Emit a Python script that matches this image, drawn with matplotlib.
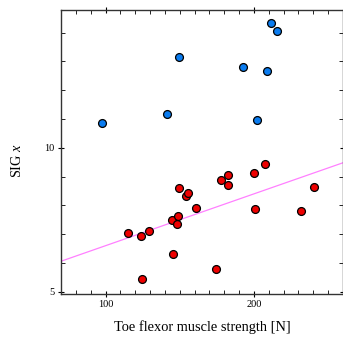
import matplotlib
matplotlib.use('Agg')
import matplotlib.pyplot as plt
import numpy as np
from matplotlib.ticker import MultipleLocator

# dados
forca_azul = [97.6, 141.5, 149.4, 192.3, 202.2, 209.1, 211.4, 215.4]
sig_azul = [10.87, 11.18, 13.17, 12.82, 10.95, 12.67, 14.33, 14.05]

forca_verm = [115.0, 124.2, 129.6, 124.4, 144.6, 147.9, 149.1, 145.7, 149.3, 154.1, 155.8,
              161.2, 174.3, 177.6, 182.5, 182.5, 200.0, 200.4, 207.5, 231.8, 240.4]
sig_verm = [7.04, 6.92, 7.10, 5.45, 7.48, 7.34, 7.63, 6.30, 8.59, 8.33, 8.42,
            7.91, 5.79, 8.89, 9.05, 8.70, 9.11, 7.86, 9.43, 7.82, 8.63]

# reta de regressão: y = a + b*x
reta_a = 4.80
reta_b = 0.018

plt.rcParams['font.family'] = 'Liberation Serif'
plt.rcParams['mathtext.fontset'] = 'custom'
plt.rcParams['mathtext.rm'] = 'Liberation Serif'
plt.rcParams['mathtext.it'] = 'Liberation Serif:italic'

fig = plt.figure(figsize=(3.43, 3.38), dpi=100)
ax = fig.add_axes([0.178, 0.130, 0.822, 0.840])

xs = np.array([70, 260])
ax.plot(xs, reta_a + reta_b * xs, color='#ff80ff', lw=0.9, zorder=1)
ax.scatter(forca_verm, sig_verm, s=32, c='#ee0000', edgecolors='black', linewidths=0.9, zorder=3)
ax.scatter(forca_azul, sig_azul, s=32, c='#0a7cf0', edgecolors='black', linewidths=0.9, zorder=3)

ax.set_xlim(70, 260)
ax.set_ylim(4.92, 14.78)
ax.set_xticks([100, 200])
ax.set_yticks([5, 10])
ax.xaxis.set_minor_locator(MultipleLocator(10))
ax.yaxis.set_minor_locator(MultipleLocator(1))
ax.tick_params(which='major', direction='inout', length=5, width=0.8, labelsize=7.5,
               top=True, right=True, pad=2)
ax.tick_params(which='minor', direction='in', length=3, width=0.6, top=True, right=True)
for s in ax.spines.values():
    s.set_linewidth(1.0)
    s.set_color('#333333')

ax.set_xlabel('Toe flexor muscle strength [N]', fontsize=10.4, labelpad=8)
ax.set_ylabel('SIG $\\it{x}$', fontsize=10.4)
ax.yaxis.set_label_coords(-0.131, 0.472)

fig.savefig('out.png', dpi=100)
